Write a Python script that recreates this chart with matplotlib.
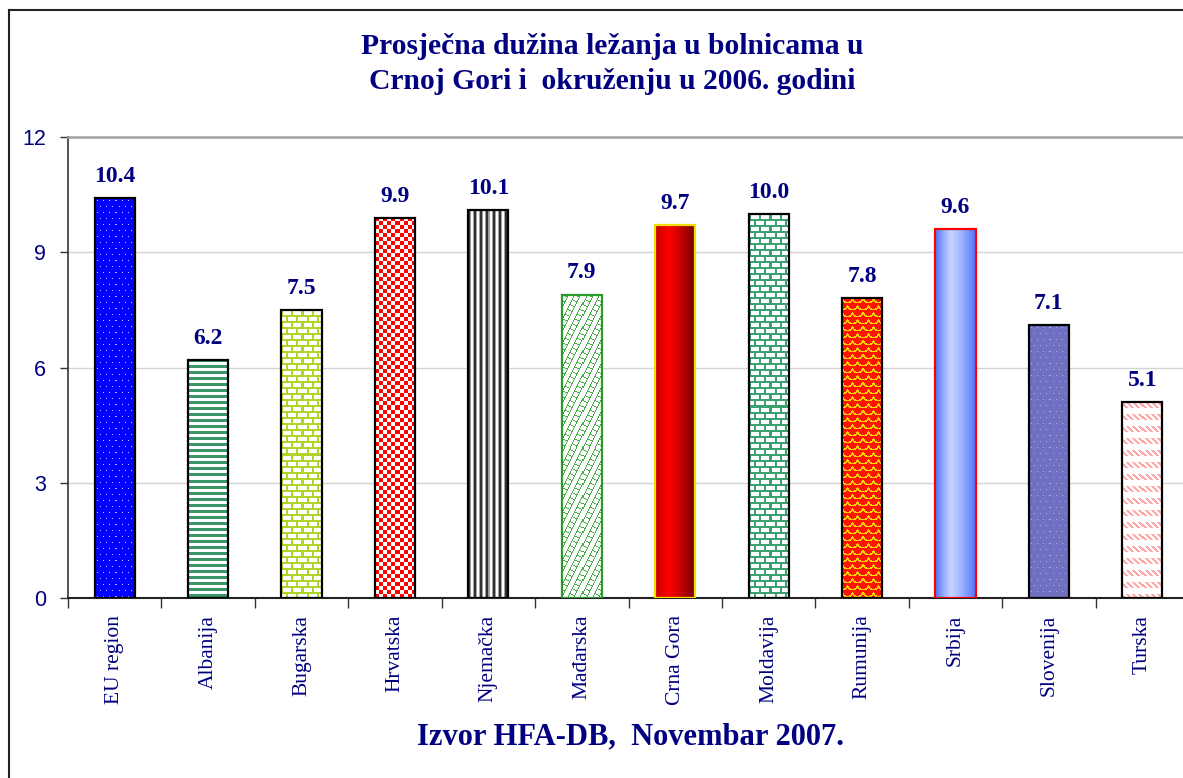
import numpy as np
import matplotlib
matplotlib.use("Agg")
import matplotlib.pyplot as plt
from matplotlib.lines import Line2D

categories = ["EU region", "Albanija", "Bugarska", "Hrvatska", "Njemačka", "Mađarska",
              "Crna Gora", "Moldavija", "Rumunija", "Srbija", "Slovenija", "Turska"]
values = [10.4, 6.2, 7.5, 9.9, 10.1, 7.9, 9.7, 10.0, 7.8, 9.6, 7.1, 5.1]
yticks = [0, 3, 6, 9, 12]
title = "Prosječna dužina ležanja u bolnicama u\nCrnoj Gori i  okruženju u 2006. godini"
footer = "Izvor HFA-DB,  Novembar 2007."

NAVY = "#000080"
SERIF = ["Liberation Serif", "DejaVu Serif"]
SANS = ["Liberation Sans", "DejaVu Sans"]

W, H, DPI = 1183, 778, 100
fig = plt.figure(figsize=(W / DPI, H / DPI), dpi=DPI)
fig.patch.set_facecolor("white")
ax = fig.add_axes([68 / W, 180 / H, 1121 / W, 461 / H])

edgecols = ["black", "black", "black", "black", "black", "#2a9a2a",
            "#f0e000", "black", "black", "red", "black", "black"]

x = np.arange(len(categories))
bars = ax.bar(x, values, width=0.43, facecolor="none", edgecolor=edgecols,
              linewidth=1.6, zorder=4)
ax.set_xlim(-0.5, len(categories) - 0.5)
ax.set_ylim(0, 12)


def c(rgb):
    return np.array(rgb, dtype=float) / 255.0


def texture(k, h, w):
    i, j = np.mgrid[0:h, 0:w]
    img = np.ones((h, w, 3))
    if k == 0:  # blue dotted
        img[:] = c((0, 0, 255))
        m = (i % 6 == 2) & (((j + 3 * ((i // 6) % 2)) % 6) == 2)
        img[m] = c((190, 190, 255))
    elif k == 1:  # horizontal green stripes
        m = (i % 6) < 3
        img[m] = c((58, 150, 105))
    elif k in (2, 7):  # brick
        col = c((176, 212, 40)) if k == 2 else c((60, 160, 115))
        row = i // 6
        m = (i % 6) < 2
        m |= ((j + 5 * (row % 2)) % 10) < 2
        img[m] = col
    elif k == 3:  # checkerboard
        m = ((i // 4) + (j // 4)) % 2 == 0
        img[m] = c((255, 0, 0))
    elif k == 4:  # vertical stripes
        pal = [c((50, 50, 50)), c((50, 50, 50)), c((160, 160, 160)),
               c((255, 255, 255)), c((255, 255, 255)), c((160, 160, 160))]
        for p in range(6):
            img[(j % 6) == p] = pal[p]
    elif k == 5:  # green diagonal weave
        g = c((70, 170, 70))
        u = (i + 2 * j)
        v = (2 * i - j)
        m = (u % 12) < 2
        m |= ((v % 12) < 2) & (((u // 12) % 2) == 0)
        img[m] = g
    elif k == 6:  # red gradient
        t = j / max(w - 1, 1)
        prof = np.where(t < 0.35, 0.78 + 0.22 * (t / 0.35), 1.0 - 0.55 * ((t - 0.35) / 0.65))
        img[..., 0] = prof
        img[..., 1] = 0
        img[..., 2] = 0
    elif k == 8:  # red with yellow scales
        img[:] = c((255, 20, 0))
        row = i // 7
        jj = (j + 5 * (row % 2)) % 10
        ii = i % 7
        d = np.sqrt((jj - 5) ** 2 + (ii - 0) ** 2 * 1.6)
        m = np.abs(d - 5) < 1.0
        img[m] = c((255, 210, 0))
    elif k == 9:  # blue gradient
        t = j / max(w - 1, 1)
        lo = c((70, 110, 255))
        hi = c((200, 212, 255))
        prof = np.where(t < 0.4, t / 0.4, 1 - (t - 0.4) / 0.6)
        prof = prof ** 0.8
        img = lo[None, None, :] + (hi - lo)[None, None, :] * prof[..., None]
    elif k == 10:  # slate dotted
        img[:] = c((112, 112, 195))
        m = (i % 6 == 2) & (((j + 3 * ((i // 6) % 2)) % 6) == 2)
        img[m] = c((175, 175, 230))
    elif k == 11:  # pink diagonal stripes
        m = (((i - j) % 6) < 3) & ((i % 12) < 6)
        img[m] = c((255, 170, 170))
    return np.clip(img, 0, 1)


fig.canvas.draw()
for k, b in enumerate(bars):
    bb = b.get_window_extent()
    wpx = max(int(round(bb.width)), 2)
    hpx = max(int(round(bb.height)), 2)
    tex = texture(k, hpx, wpx)
    x0 = b.get_x()
    im = ax.imshow(tex, extent=(x0, x0 + b.get_width(), 0, b.get_height()),
                   aspect="auto", interpolation="nearest", zorder=3)
    im.set_clip_path(b)

ax.set_xlim(-0.5, len(categories) - 0.5)
ax.set_ylim(0, 12)

for b, v in zip(bars, values):
    ax.annotate(f"{v:.1f}", (b.get_x() + b.get_width() / 2, v), xytext=(0, 8),
                textcoords="offset points", ha="center", va="bottom",
                fontsize=17, fontweight="bold", color=NAVY, family=SERIF)

ax.set_yticks(yticks)
ax.set_yticklabels([str(t) for t in yticks], family=SANS, fontsize=15.5, color=NAVY)
ax.yaxis.grid(True, color="#d4d4d4", linewidth=1.0, zorder=0)
ax.set_axisbelow(True)

ax.set_xticks(np.arange(len(categories) + 1) - 0.5)
ax.set_xticklabels([])
ax.set_xticks(x, minor=True)
ax.set_xticklabels(categories, minor=True, rotation=90, family=SERIF, fontsize=15.5,
                   color=NAVY, va="top")
ax.tick_params(axis="x", which="major", direction="out", length=7, color="#333333", width=1)
ax.tick_params(axis="x", which="minor", length=0, pad=12)
ax.tick_params(axis="y", direction="out", length=6, color="#333333", width=1, pad=10)

ax.spines["left"].set_color("#333333")
ax.spines["left"].set_linewidth(1.2)
ax.spines["bottom"].set_color("#222222")
ax.spines["bottom"].set_linewidth(1.5)
ax.spines["top"].set_color("#a0a0a0")
ax.spines["top"].set_linewidth(1.8)
ax.spines["right"].set_visible(False)

fig.text(612 / W, 1 - 64 / H, title, ha="center", va="center", fontsize=21.3,
         fontweight="bold", color=NAVY, family=SERIF, linespacing=1.4)
fig.text(630 / W, 1 - 737 / H, footer, ha="center", va="center", fontsize=22,
         fontweight="bold", color=NAVY, family=SERIF)

# outer chart frame (cropped on the right and bottom)
fig.add_artist(Line2D([9 / W, 9 / W], [0, 1 - 10 / H], transform=fig.transFigure,
                      color="#222222", linewidth=1.5))
fig.add_artist(Line2D([9 / W, 1], [1 - 10 / H, 1 - 10 / H], transform=fig.transFigure,
                      color="#222222", linewidth=1.5))

fig.savefig("out.png", dpi=DPI, facecolor="white")
